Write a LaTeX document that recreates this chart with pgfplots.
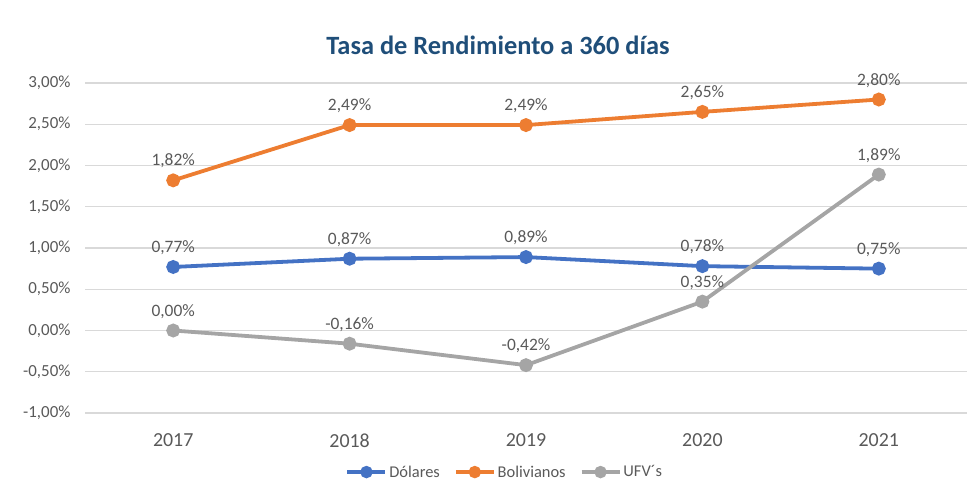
\documentclass[border=0pt]{standalone}
\usepackage{pgfplots}
\pgfplotsset{compat=1.18}
\usepackage{fontspec}
\setmainfont{Carlito}
\definecolor{cblue}{HTML}{4472C4}
\definecolor{corange}{HTML}{ED7D31}
\definecolor{cgray}{HTML}{A5A5A5}
\definecolor{ctitle}{HTML}{1F4E79}
\definecolor{ctick}{HTML}{595959}
\definecolor{cgrid}{HTML}{D9D9D9}
\begin{document}
\begin{tikzpicture}
\useasboundingbox (0,0) rectangle (972bp,487bp);
\node[font=\fontsize{26.5}{30}\selectfont\bfseries, text=ctitle] at (498bp,442bp) {Tasa de Rendimiento a 360 días};
\begin{axis}[
  at={(85bp,74bp)}, anchor=south west,
  scale only axis, width=882bp, height=330bp,
  xmin=2016.5, xmax=2021.5, ymin=-1, ymax=3,
  xtick={2017,2018,2019,2020,2021},
  xticklabels={2017,2018,2019,2020,2021},
  ytick={-1,-0.5,0,0.5,1,1.5,2,2.5,3},
  /pgf/number format/assume math mode=true,
  yticklabel={\pgfmathprintnumber[fixed,fixed zerofill,precision=2,use comma]{\tick}\%},
  yticklabel style={font=\fontsize{17}{20}\selectfont, text=ctick},
  xticklabel style={font=\fontsize{20}{22}\selectfont, text=ctick},
  axis line style={draw=none},
  tick style={draw=none},
  ymajorgrids, grid style={cgrid, line width=1.3bp},
  xticklabel shift=17bp,
  yticklabel shift=11bp,
  nodes near coords={\pgfmathprintnumber[fixed,fixed zerofill,precision=2,use comma,assume math mode=true]{\pgfplotspointmeta}\%},
  nodes near coords style={font=\fontsize{17.5}{20}\selectfont, text=ctick, anchor=south, yshift=7bp},
  legend columns=3,
  legend style={draw=none, fill=none, at={(0.476,-0.179)}, anchor=center,
    font=\fontsize{16.5}{20}\selectfont, text=ctick,
    /tikz/every even column/.append style={column sep=12bp}},
  legend image code/.code={\draw[#1, mark repeat=2, mark phase=2, mark options={scale=0.85}] plot coordinates {(0bp,0bp) (19bp,0bp) (38bp,0bp)};},
  every axis plot/.append style={line width=3.8bp, mark=*, mark size=5bp, mark options={line width=0.1bp}},
]
\addplot[cblue, mark options={fill=cblue}] coordinates {(2017,0.77) (2018,0.87) (2019,0.89) (2020,0.78) (2021,0.75)};
\addlegendentry{Dólares}
\addplot[corange, mark options={fill=corange}] coordinates {(2017,1.82) (2018,2.49) (2019,2.49) (2020,2.65) (2021,2.80)};
\addlegendentry{Bolivianos}
\addplot[cgray, mark options={fill=cgray}] coordinates {(2017,0.00) (2018,-0.16) (2019,-0.42) (2020,0.35) (2021,1.89)};
\addlegendentry{UFV´s}
\end{axis}
\end{tikzpicture}
\end{document}
